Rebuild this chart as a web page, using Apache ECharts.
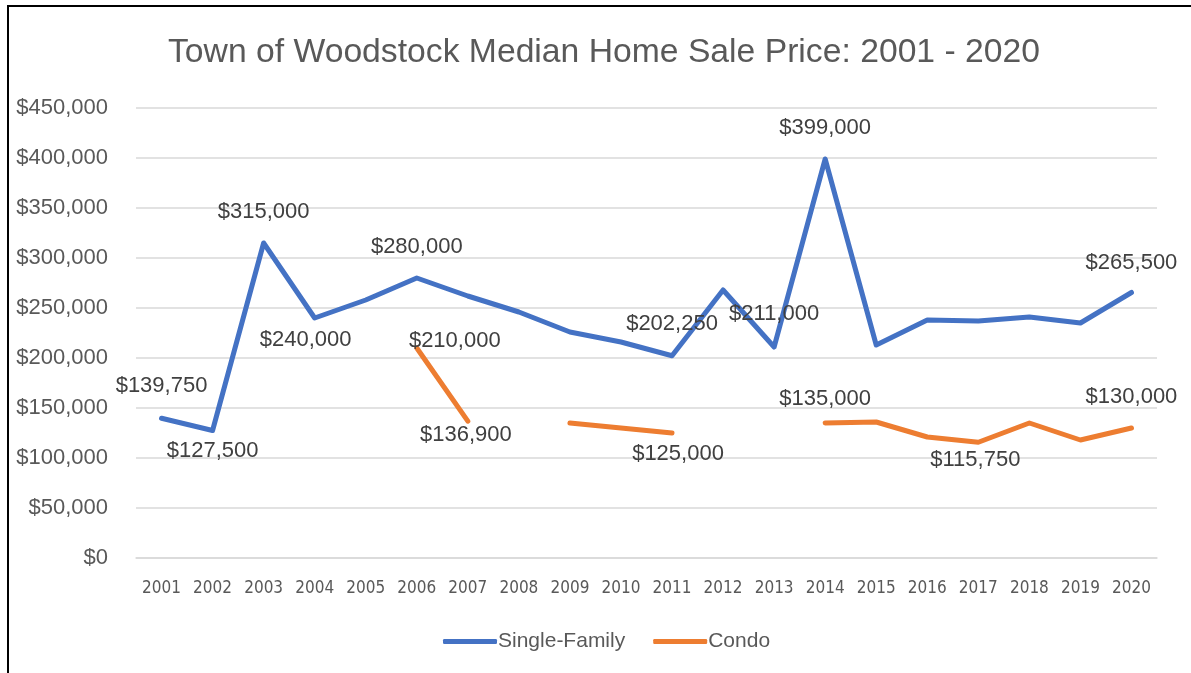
<!DOCTYPE html>
<html>
<head>
<meta charset="utf-8">
<title>Town of Woodstock Median Home Sale Price</title>
<script src="https://cdn.jsdelivr.net/npm/echarts@6/dist/echarts.min.js"></script>
<style>
    html, body { margin: 0; padding: 0; background: #fff; }
    #frame { position: absolute; left: 7px; top: 5px; width: 1184px; height: 668px;
             border-left: 2px solid #000; border-top: 2px solid #000; }
    #chart { position: absolute; left: -9px; top: -7px; width: 1191px; height: 673px; }
</style>
</head>
<body>
<div id="frame"><div id="chart"></div></div>
<script>
// data
const years = ['2001','2002','2003','2004','2005','2006','2007','2008','2009','2010',
               '2011','2012','2013','2014','2015','2016','2017','2018','2019','2020']
const singleFamily = [139750, 127500, 315000, 240000, 258000, 280000, 262000, 246000, 226000, 216000,
                      202250, 268000, 211000, 399000, 213000, 238000, 237000, 241000, 235000, 265500]
const condo = [null, null, null, null, null, 210000, 136900, null, 135000, 130000,
               125000, null, null, 135000, 136000, 121000, 115750, 135000, 118000, 130000]

// which points carry a data label, and where it sits
const sfLabels = {
    0: { position: 'top', distance: 20 },
    1: { position: 'bottom', distance: 8 },
    2: { position: 'top', distance: 19 },
    3: { position: 'bottom', distance: 10, offset: [-9, 0] },
    5: { position: 'top', distance: 19 },
    10: { position: 'top', distance: 20 },
    12: { position: 'top', distance: 21 },
    13: { position: 'top', distance: 19 },
    19: { position: 'top', distance: 18 }
}
const condoLabels = {
    5: { position: 'top', distance: 0, offset: [38, 5] },
    6: { position: 'bottom', distance: 2, offset: [-2, 0] },
    10: { position: 'bottom', distance: 9, offset: [6, 0] },
    13: { position: 'top', distance: 12 },
    16: { position: 'bottom', distance: 6, offset: [-3, 0] },
    19: { position: 'top', distance: 19 }
}

const fmt = v => '$' + Number(v).toLocaleString('en-US')
const labelFont = { fontFamily: 'Liberation Sans, Arial, sans-serif', fontSize: 22, color: '#404040' }

function build(values, labels){
    return values.map((v, i) => {
        if (labels[i]) {
            return { value: v, label: Object.assign({ show: true, formatter: p => fmt(p.value) }, labelFont, labels[i]) }
        }
        return v
    })
}

function lineSeries(name, values, labels, color){
    return {
        name: name,
        type: 'line',
        data: build(values, labels),
        connectNulls: false,
        showSymbol: true,
        symbol: 'circle',
        symbolSize: 2,
        itemStyle: { color: 'rgba(0,0,0,0)', borderWidth: 0 },
        lineStyle: { width: 5, color: color, cap: 'round', join: 'round' },
        label: { show: false }
    }
}

let myChart = echarts.init(document.getElementById('chart'))
myChart.setOption({
    animation: false,
    backgroundColor: 'transparent',
    title: {
        text: 'Town of Woodstock Median Home Sale Price: 2001 - 2020',
        left: 163,
        top: 31,
        textStyle: { fontFamily: 'Liberation Sans, Arial, sans-serif', fontSize: 33.7, fontWeight: 'normal', color: '#595959' }
    },
    legend: {
        bottom: 16,
        left: 438,
        itemWidth: 54,
        itemHeight: 5,
        itemGap: 28,
        textStyle: { fontFamily: 'Liberation Sans, Arial, sans-serif', fontSize: 21, color: '#595959', padding: [0, 0, 0, -4] },
        data: [
            { name: 'Single-Family', icon: 'roundRect', itemStyle: { color: '#4472C4', opacity: 1 } },
            { name: 'Condo', icon: 'roundRect', itemStyle: { color: '#ED7D31', opacity: 1 } }
        ]
    },
    grid: { left: 136, right: 34, top: 108, bottom: 115 },
    xAxis: {
        type: 'category',
        data: years,
        boundaryGap: true,
        axisLine: { lineStyle: { color: '#d9d9d9', width: 1.5 } },
        axisTick: { show: false },
        axisLabel: { interval: 0, margin: 22, fontFamily: "'Liberation Sans Narrow', 'DejaVu Sans Condensed', sans-serif", fontSize: 17, color: '#595959' }
    },
    yAxis: {
        type: 'value',
        min: 0,
        max: 450000,
        interval: 50000,
        axisLine: { show: false },
        axisTick: { show: false },
        splitLine: { lineStyle: { color: '#d9d9d9', width: 1.5 } },
        axisLabel: { margin: 28, fontFamily: 'Liberation Sans, Arial, sans-serif', fontSize: 22, color: '#595959', formatter: v => fmt(v) }
    },
    series: [
        lineSeries('Single-Family', singleFamily, sfLabels, '#4472C4'),
        lineSeries('Condo', condo, condoLabels, '#ED7D31')
    ]
})
</script>
</body>
</html>
